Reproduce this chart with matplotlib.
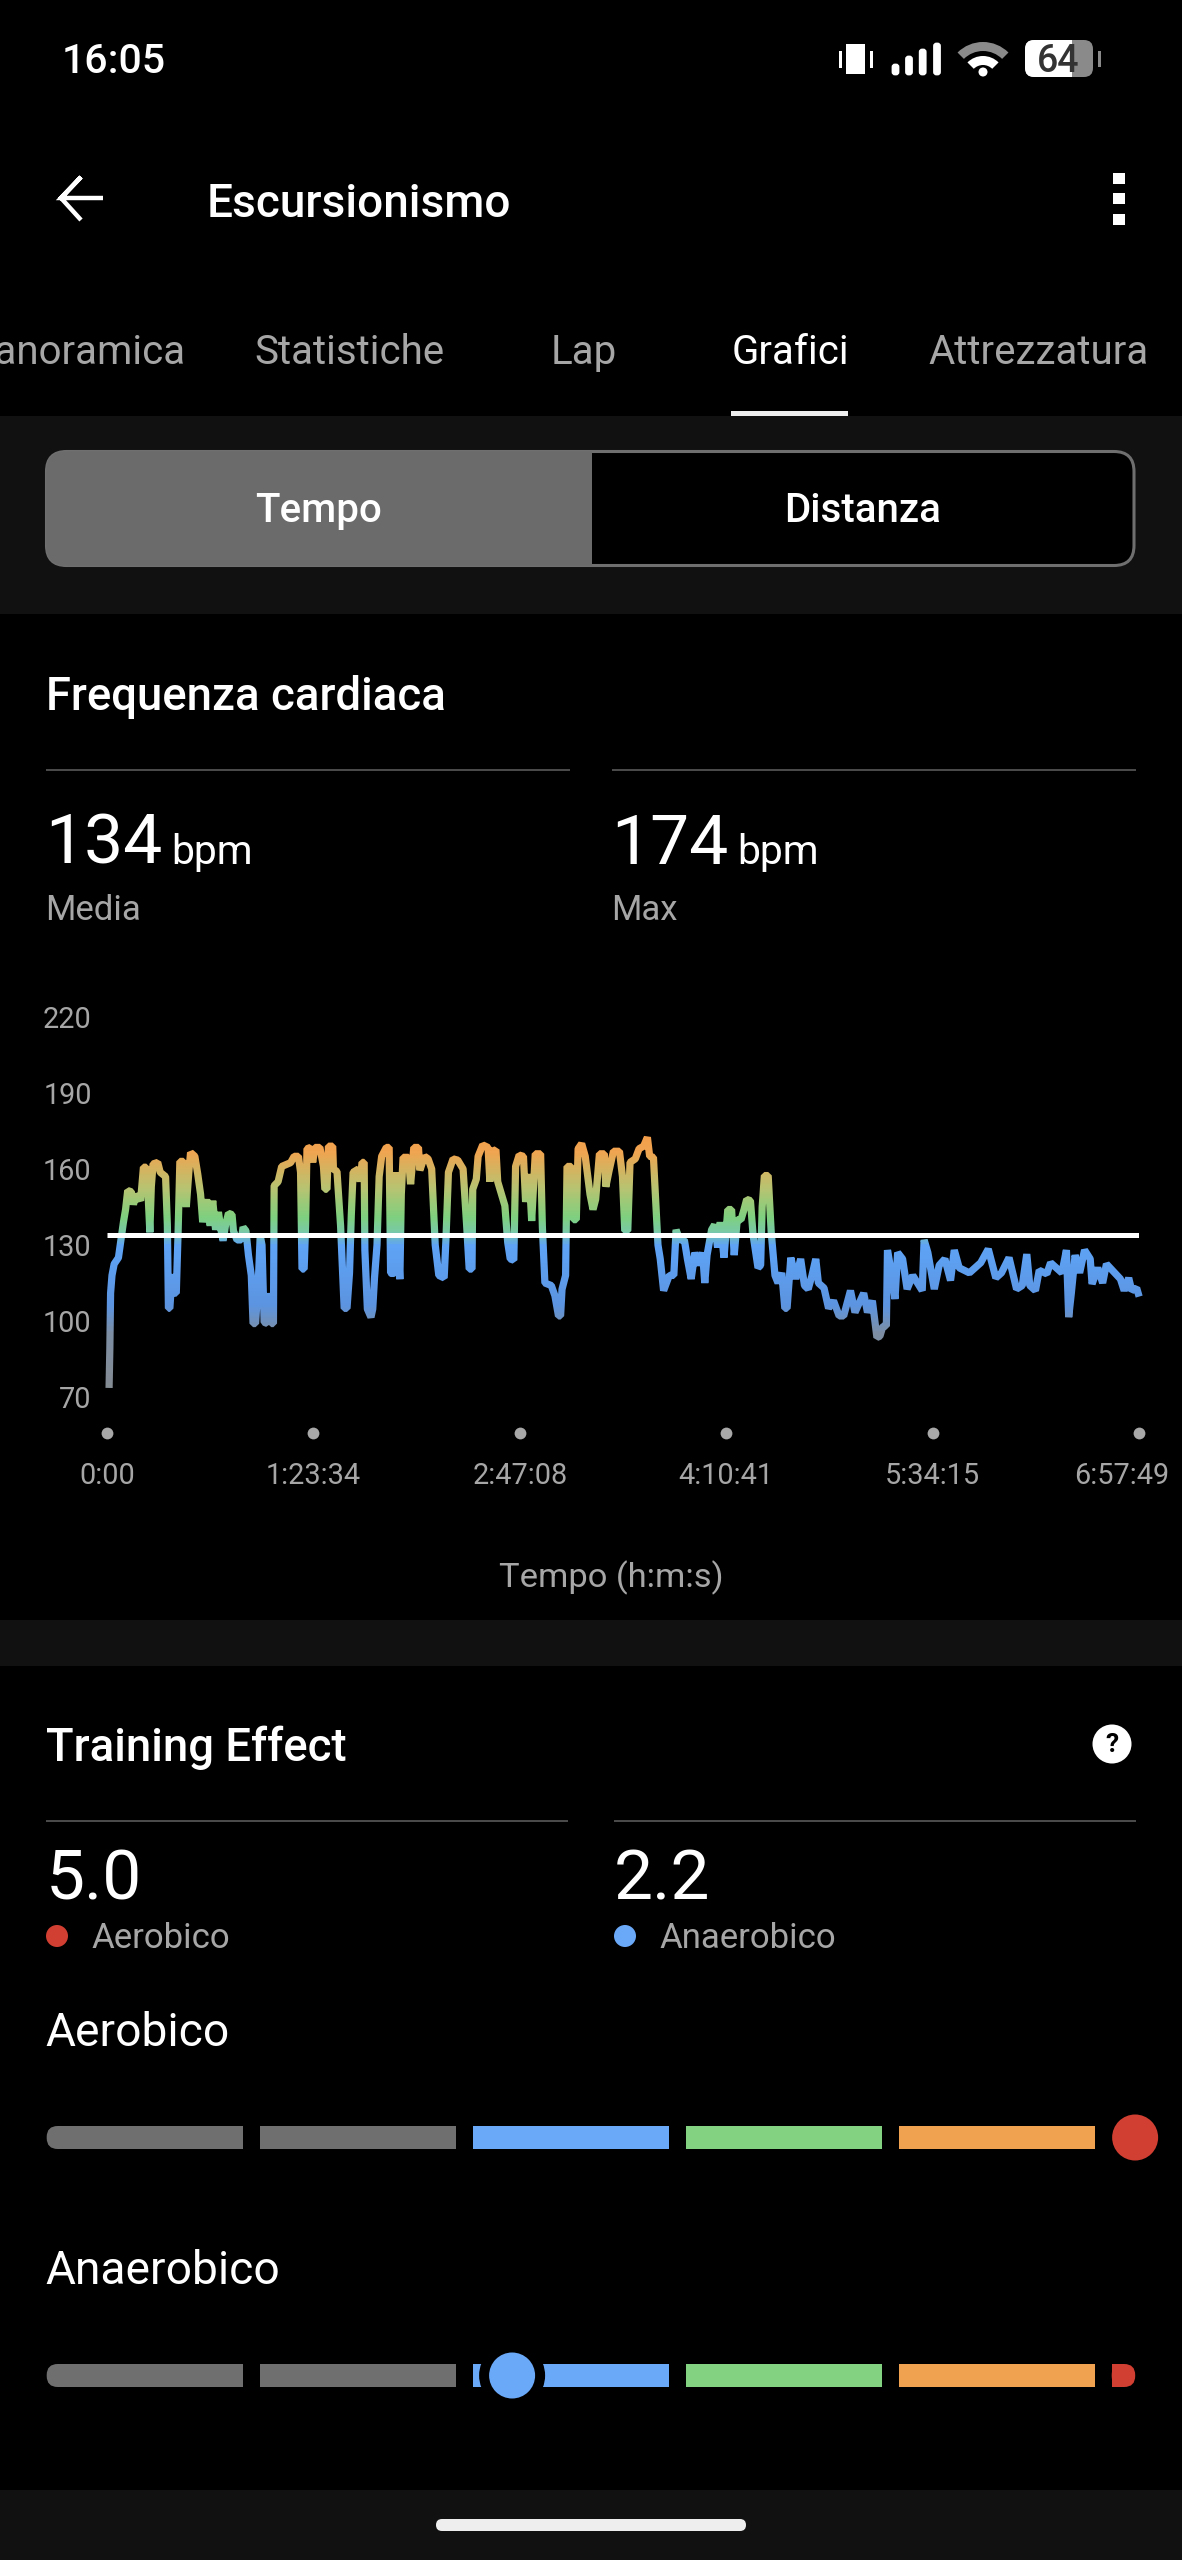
"""Garmin-style heart rate screen: UI drawn in pixel coords, chart on its own axes."""
import matplotlib
matplotlib.use("Agg")
import matplotlib.pyplot as plt
import numpy as np
from matplotlib.colors import LinearSegmentedColormap
from matplotlib.patches import Circle, FancyBboxPatch, Rectangle, Wedge
from matplotlib.transforms import Bbox, ScaledTranslation

plt.rcParams["font.family"] = ["Roboto", "DejaVu Sans"]

W, H = 1182, 2560

# heart rate trace
time_s = [52, 69, 87, 121, 174, 278, 338, 399, 451, 503, 590, 642, 711, 816, 850, 885, 954, 998, 1041, 1076,
          1119, 1232, 1293, 1423, 1466, 1492, 1527, 1579, 1622, 1683, 1727, 1770, 1857, 1900, 1926, 1987, 2030,
          2134, 2204, 2273, 2325, 2421, 2507, 2568, 2638, 2707, 2768, 2820, 2881, 2950, 3037, 3071, 3158, 3262,
          3306, 3375, 3436, 3505, 3548, 3609, 3679, 3722, 3765, 3817, 3896, 3922, 3991, 4043, 4060, 4156, 4243,
          4460, 4546, 4650, 4702, 4737, 4789, 4824, 4858, 4945, 4997, 5049, 5171, 5258, 5292, 5344, 5379, 5483,
          5500, 5587, 5674, 5761, 5830, 5891, 5934, 5978, 6108, 6151, 6195, 6247, 6264, 6325, 6412, 6455, 6498,
          6559, 6611, 6672, 6785, 6854, 6889, 6932, 6976, 7010, 7045, 7114, 7149, 7192, 7322, 7375, 7453, 7566,
          7600, 7713, 7800, 7887, 7973, 8060, 8190, 8233, 8294, 8407, 8520, 8650, 8737, 8798, 8867, 8884, 8971,
          9015, 9127, 9257, 9300, 9353, 9448, 9491, 9665, 9734, 9795, 9882, 9925, 10012, 10116, 10168, 10255,
          10316, 10403, 10533, 10576, 10637, 10793, 10880, 10967, 11018, 11053, 11140, 11175, 11279, 11331,
          11400, 11444, 11530, 11617, 11733,
          11806, 11870, 11962, 12081, 12118, 12192, 12302, 12448, 12522, 12577, 12650, 12705, 12833, 12925,
          13035, 13127, 13182, 13274, 13329, 13384, 13439, 13521, 13659, 13769, 13824, 13915, 14025, 14099,
          14190, 14282, 14374, 14466, 14521, 14576, 14686, 14759, 14832, 14897, 14988, 15080, 15172, 15236,
          15309, 15401, 15474, 15539, 15630, 15694, 15814, 15878, 15915, 15969, 16061, 16135, 16226, 16300,
          16391, 16465, 16520, 16611, 16731, 16850, 16942, 17033, 17125, 17217, 17281, 17418, 17528, 17648,
          17785, 17895, 18060, 18170, 18381, 18473, 18592, 18702, 18775, 18849, 18932, 18959, 19023, 19142,
          19206, 19326, 19436, 19573, 19803, 19849, 19940, 20096, 20215, 20353, 20491, 20582, 20701, 20949,
          21224, 21407, 21591, 21728, 21912, 22095, 22233, 22343, 22416, 22553, 22645, 22829, 22921, 23196,
          23306, 23361, 23425, 23517, 23627, 23746, 23884, 23929, 24067, 24186, 24278, 24480, 24617, 24709,
          24819, 24892, 25012, 25048]
heart_rate = [75, 89, 111, 118, 122.5, 125, 132, 139, 144, 151.5, 151, 146, 150, 147.5, 154, 160.7, 160.7, 150,
              135, 153, 162, 162.6, 158.7, 157, 138, 105, 105, 118.5, 111, 111, 135, 163, 163, 150, 145, 158.7,
              166.5, 165, 158, 150, 139, 148, 137.6, 147.5, 136, 143, 136, 131.7, 138, 142.5, 142, 135.6, 132,
              132, 137, 135.6, 126, 118, 99, 99, 117, 133.7, 130, 99.5, 99, 111, 99, 99, 153.4, 155, 161, 162.5,
              165, 165, 158.7, 120.5, 120.5, 137.6, 168, 168.5, 162.6, 168.5, 168.5, 161, 152, 152, 169, 169,
              160, 159, 137.6, 105, 105, 119, 141.6, 158.7, 160, 155, 162.6, 162.6, 128, 104.7, 101.5, 104.7,
              117, 130, 157, 165, 168.5, 168.5, 119, 118.6, 119, 158.7, 137.6, 116.5, 150, 164.6, 164.6, 154,
              168.5, 168.5, 159.5, 165, 164, 160, 130, 118, 117, 132, 158.7, 164, 163.5, 160, 137.6, 120.5,
              120.5, 152, 156, 165, 169.5, 168.5, 155, 167, 167.6, 155, 145.5, 131, 124.5, 124, 161, 165.5, 165,
              147, 158, 139.5, 166, 166, 137, 115, 114, 110, 102, 102, 112.5, 118, 161, 161, 140, 140, 168, 170,
              165, 150,
              144, 148, 166, 166, 153, 159, 167, 167, 157, 135.6, 135.6, 162.6, 164, 168, 169, 172.5, 165, 164.6,
              147, 130, 124.5, 112, 118, 118, 136, 132, 132, 124.5, 116.6, 127, 122, 127, 115, 126, 136, 138,
              129, 139, 125, 144, 144, 126, 140, 140, 144, 148, 147.5, 134, 121, 122, 145, 157.4, 157.4, 135,
              118, 115, 119, 105, 105, 125, 116.6, 124.5, 114, 112.6, 118, 124.5, 115, 113, 105, 108, 102, 102,
              112, 103.4, 111, 103.4, 108, 93.5, 94, 98, 98, 128, 122, 108.7, 127, 124.5, 112.6, 118, 112, 132,
              127, 112.6, 122, 124.5, 116, 128, 121, 119, 123, 128.4, 117, 119, 125, 112.6, 114, 126.4, 114, 112,
              120, 118.6, 123, 119, 128, 101.5, 111, 126, 119, 128, 124.5, 114.6, 121, 115, 122.5, 119, 116.6,
              112, 117, 112, 113, 111]
mean_hr = 134
max_hr = 174

y_ticks = [70, 100, 130, 160, 190, 220]
x_ticks = [0, 5014, 10028, 15041, 20055, 25069]
x_labels = ["0:00", "1:23:34", "2:47:08", "4:10:41", "5:34:15", "6:57:49"]

# value -> colour stops of the line gradient
grad_bpm = [70, 95, 106, 130, 135, 141, 152, 167, 175]
grad_col = ["#848a90", "#7d8ea3", "#5c94e0", "#5ea3f6", "#79c9a8", "#7ed07f", "#b5c472", "#f0a450", "#f49c48"]

tabs = ["Panoramica", "Statistiche", "Lap", "Grafici", "Attrezzatura"]
tab_x = [186, 254, 551, 732, 928]

te_labels = ["Aerobico", "Anaerobico"]
te_values = [5.0, 2.2]
te_marker_pos = [5.11, 2.185]
seg_colors = ["#6f6f6f", "#6f6f6f", "#6aa8f8", "#82d282", "#f0a250"]
RED, BLUE = "#d03f32", "#6aa8f8"

GRAY_TXT = "#a6a6a6"
PANEL = "#111111"

fig = plt.figure(figsize=(W / 100, H / 100), dpi=100, facecolor="black")

# ---- full-screen axes in pixel coords for all the UI ----
ui = fig.add_axes([0, 0, 1, 1])
ui.set_xlim(0, W)
ui.set_ylim(H, 0)
ui.axis("off")


def rect(x0, y0, x1, y1, color, z=1):
    ui.add_patch(Rectangle((x0, y0), x1 - x0, y1 - y0, fc=color, ec="none", zorder=z))


def label(x, y, s, size, color="white", weight="normal", ha="left", va="center"):
    return ui.text(x, y, s, fontsize=size, color=color, fontweight=weight, ha=ha, va=va, zorder=5)


rect(0, 416, W, 614, PANEL)
rect(0, 1620, W, 1666, PANEL)
rect(0, 2490, W, H, PANEL)

# status bar
label(62, 62, "16:05", 29.5, weight="medium")
rect(846, 44, 865, 73.5, "white")
rect(839, 51, 842, 68, "white")
rect(870, 51, 873, 68, "white")
for bx, top in zip([895.5, 909, 922.7, 937], [63, 55, 48, 42]):
    ui.add_patch(FancyBboxPatch((bx - 2.5, top + 2), 5, 76 - top - 4, boxstyle="round,pad=0,rounding_size=2",
                                fc="white", ec="white", lw=2, zorder=2))
ui.add_patch(Wedge((983, 78), 36, 225, 315, width=9, fc="#8a8a8a", ec="none", zorder=2))
ui.add_patch(Wedge((983, 78), 22, 225, 315, width=9, fc="white", ec="none", zorder=2))
ui.add_patch(Circle((983, 72), 4.5, fc="white", ec="none", zorder=2))
ui.add_patch(FancyBboxPatch((1025, 40), 68, 37, boxstyle="round,pad=0,rounding_size=9", fc="#8a8a8a", ec="none",
                            zorder=2))
batt = FancyBboxPatch((1025, 40), 68, 37, boxstyle="round,pad=0,rounding_size=9", fc="white", ec="none", zorder=2.5)
ui.add_patch(batt)
batt.set_clip_path(Rectangle((1025, 40), 47, 37, transform=ui.transData))
rect(1098, 51, 1101, 67, "#8a8a8a")
label(1058, 61, "64", 27, color="#333333", weight="medium", ha="center")

# top bar
ui.plot([103, 61, 81, 61, 81], [198, 198, 177, 198, 220], color="white", lw=3.2, solid_joinstyle="miter",
        solid_capstyle="butt", zorder=3)
label(207, 204, "Escursionismo", 33.1, weight="medium")
for y0 in [173, 193, 213.5]:
    rect(1113, y0, 1125, y0 + 11, "white")

# tabs
for name, tx in zip(tabs, tab_x):
    on = name == "Grafici"
    label(tx, 353, name, 29, color="white" if on else GRAY_TXT, ha="right" if name == "Panoramica" else "left")
rect(731, 411, 848, 416, "#eeeeee", z=2)

# Tempo / Distanza switch
ui.add_patch(FancyBboxPatch((46.5, 451.5), 1087.5, 114, boxstyle="round,pad=0,rounding_size=20", fc="black",
                            ec="#6f6f6f", lw=2.2, zorder=2))
sel = FancyBboxPatch((46.5, 451.5), 1087.5, 114, boxstyle="round,pad=0,rounding_size=20", fc="#6b6b6b", ec="none",
                     zorder=2.5)
ui.add_patch(sel)
sel.set_clip_path(Rectangle((40, 445), 552, 130, transform=ui.transData))
label(319, 511, "Tempo", 29, weight="medium", ha="center")
label(863, 511, "Distanza", 29, weight="medium", ha="center")

# heart rate header
label(46, 697, "Frequenza cardiaca", 32.8, weight="medium")
for x0, x1 in [(46, 570), (612, 1136)]:
    rect(x0, 769, x1, 771, "#4a4a4a")
for x0, val, sub in [(45, mean_hr, "Media"), (611, max_hr, "Max")]:
    label(x0, 864, str(val), 50, va="baseline")
    label(x0 + 126, 864, "bpm", 29.4, va="baseline")
    label(x0, 911, sub, 25, color=GRAY_TXT)
label(611, 1578, "Tempo (h:m:s)", 24.8, color=GRAY_TXT, ha="center")

# training effect
label(46, 1748, "Training Effect", 32.8, weight="medium")
ui.add_patch(Circle((1112, 1744), 19.5, fc="white", ec="none", zorder=3))
label(1112, 1745, "?", 19, color="black", weight="bold", ha="center")
for x0, x1 in [(46, 568), (614, 1136)]:
    rect(x0, 1820, x1, 1822, "#4a4a4a")
for x0, val, col, name in zip([46, 614], te_values, [RED, BLUE], te_labels):
    label(x0, 1899, f"{val:.1f}", 50, va="baseline")
    ui.add_patch(Circle((x0 + 11, 1936), 11, fc=col, ec="none", zorder=3))
    label(x0 + 45, 1939, name, 25, color=GRAY_TXT)

SEG0, SEG_W, SEG_LEN = 46.7, 213.0, 196.3
for name, pos, col, ty, by, is_max in zip(te_labels, te_marker_pos, [RED, BLUE], [2033, 2271], [2137.5, 2375.5],
                                          [True, False]):
    label(45, ty, name, 33.2)
    for i, c in enumerate(seg_colors):
        x0 = SEG0 + i * SEG_W
        if i == 0:
            ui.add_patch(FancyBboxPatch((x0, by - 11.5), SEG_LEN, 23, boxstyle="round,pad=0,rounding_size=11",
                                        fc=c, ec="none", zorder=2))
            rect(x0 + 30, by - 11.5, x0 + SEG_LEN, by + 11.5, c, z=2)
        else:
            rect(x0, by - 11.5, x0 + SEG_LEN, by + 11.5, c, z=2)
    # short red end of the scale
    end_x = SEG0 + 5 * SEG_W
    if not is_max:
        ui.add_patch(FancyBboxPatch((end_x, by - 11.5), 23.5, 23, boxstyle="round,pad=0,rounding_size=11", fc=RED,
                                    ec="none", zorder=2))
        rect(end_x, by - 11.5, end_x + 12, by + 11.5, RED, z=2)
    mx = SEG0 + pos * SEG_W
    ui.add_patch(Circle((mx, by), 33, fc="black", ec="none", zorder=3))
    ui.add_patch(Circle((mx, by), 23, fc=col, ec="none", zorder=4))

# home indicator
ui.add_patch(FancyBboxPatch((436, 2519), 310, 12, boxstyle="round,pad=0,rounding_size=6", fc="#eeeeee", ec="none",
                            zorder=2))

# ---- heart rate chart ----
PX_L, PX_R = 107, 1139
PX_BOT, PX_TOP = 1397, 1017
ax = fig.add_axes([PX_L / W, 1 - PX_BOT / H, (PX_R - PX_L) / W, (PX_BOT - PX_TOP) / H])
ax.set_facecolor("none")
ax.set_xlim(x_ticks[0], x_ticks[-1])
ax.set_ylim(y_ticks[0], y_ticks[-1])
for s in ax.spines.values():
    s.set_visible(False)
ax.set_yticks(y_ticks)
ax.set_xticks(x_ticks)
ax.set_xticklabels(x_labels)
ax.tick_params(axis="both", length=0, colors=GRAY_TXT, labelsize=20.8)
ax.tick_params(axis="x", pad=47)
ax.tick_params(axis="y", pad=11)
# last label is pushed inside the screen
last = ax.get_xticklabels()[-1]
last.set_transform(last.get_transform() + ScaledTranslation(-0.17, 0, fig.dpi_scale_trans))

cmap = LinearSegmentedColormap.from_list(
    "hr", [((b - grad_bpm[0]) / (grad_bpm[-1] - grad_bpm[0]), c) for b, c in zip(grad_bpm, grad_col)])

# same line drawn once per horizontal band, so the colour follows the height even on vertical strokes
levels = np.arange(66, 180, 0.5)
for lo, hi in zip(levels[:-1], levels[1:]):
    c = cmap((0.5 * (lo + hi) - grad_bpm[0]) / (grad_bpm[-1] - grad_bpm[0]))
    ln, = ax.plot(time_s, heart_rate, color=c, lw=5.2, solid_joinstyle="bevel", zorder=2)
    y0 = ax.transData.transform((0, lo))[1]
    y1 = ax.transData.transform((0, hi))[1]
    ln.set_clip_box(Bbox([[0, y0], [W, y1]]))

ax.plot([x_ticks[0], x_ticks[-1]], [mean_hr, mean_hr], color="white", lw=3.6, solid_capstyle="butt", zorder=3)
ax.plot(x_ticks, [-0.095] * len(x_ticks), "o", color="#a8a8a8", ms=8.5, mew=0, clip_on=False,
        transform=ax.get_xaxis_transform())

fig.savefig("out.png", dpi=100, facecolor="black")
